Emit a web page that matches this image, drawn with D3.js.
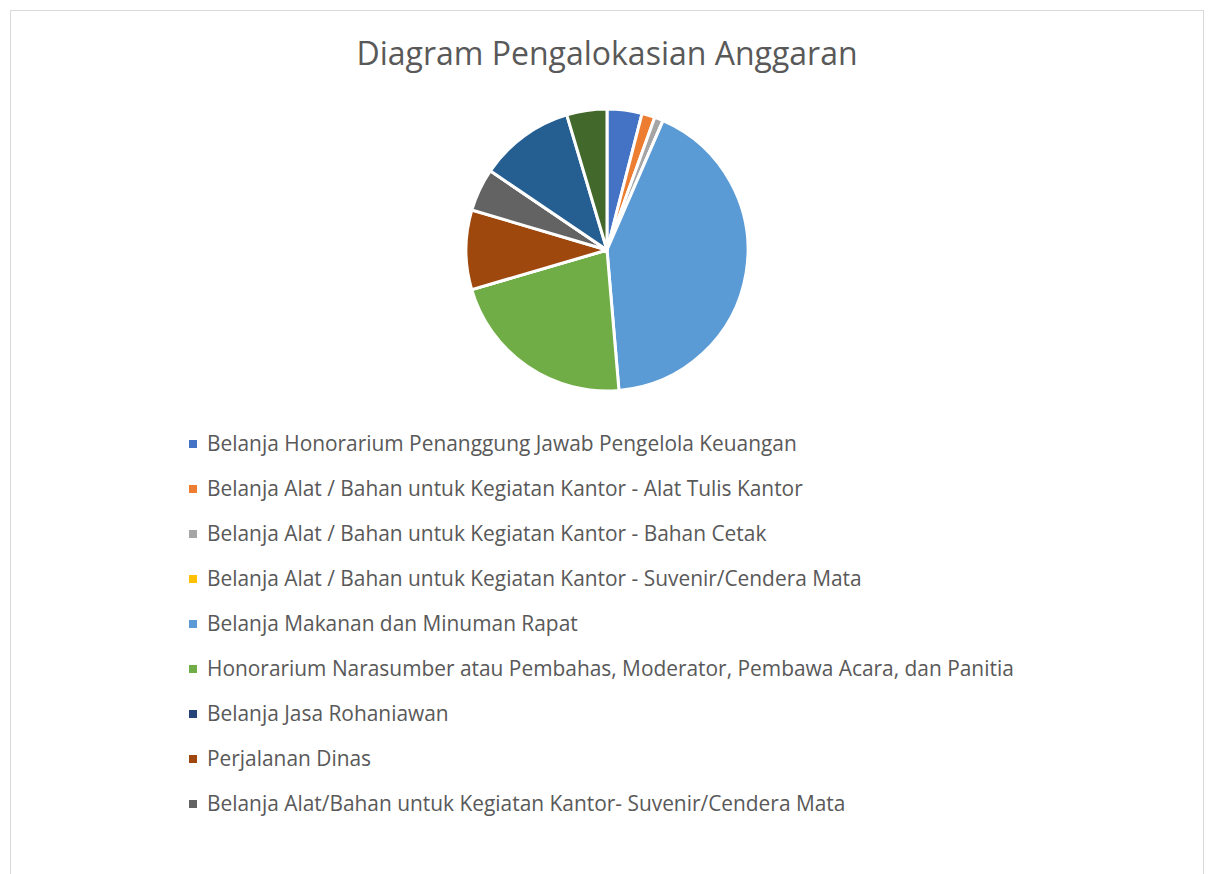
<!DOCTYPE html>
<html>
<head>
<meta charset="utf-8">
<script src="https://cdn.jsdelivr.net/npm/d3@7"></script>
<style>
  body { margin: 0; background: #fff; }
  svg { display: block; }
</style>
</head>
<body>
<div id="chart"></div>
<script>
// Slices (percent of total), clockwise from 12 o'clock
const values = [4.0, 1.5, 1.0, 0, 42.1, 21.8, 0, 9.1, 4.9, 0, 10.9, 4.6];

// Only the first nine entries are shown in the (clipped) legend
const categories = [
  'Belanja Honorarium Penanggung Jawab Pengelola Keuangan',
  'Belanja Alat / Bahan untuk Kegiatan Kantor - Alat Tulis Kantor',
  'Belanja Alat / Bahan untuk Kegiatan Kantor - Bahan Cetak',
  'Belanja Alat / Bahan untuk Kegiatan Kantor - Suvenir/Cendera Mata',
  'Belanja Makanan dan Minuman Rapat',
  'Honorarium Narasumber atau Pembahas, Moderator, Pembawa Acara, dan Panitia',
  'Belanja Jasa Rohaniawan',
  'Perjalanan Dinas',
  'Belanja Alat/Bahan untuk Kegiatan Kantor- Suvenir/Cendera Mata'
];

const colors = ['#4472C4', '#ED7D31', '#A5A5A5', '#FFC000', '#5B9BD5', '#70AD47',
  '#264478', '#9E480E', '#636363', '#997300', '#255E91', '#43682B'];

const title = 'Diagram Pengalokasian Anggaran';

const width = 1208;
const height = 874;

const svg = d3.select('#chart').append('svg')
  .attr('width', width)
  .attr('height', height);

// chart frame (runs past the bottom edge)
svg.append('rect')
  .attr('x', 10.5)
  .attr('y', 10.5)
  .attr('width', 1193)
  .attr('height', 900)
  .attr('fill', '#fff')
  .attr('stroke', '#d9d9d9')
  .attr('stroke-width', 1);

svg.append('text')
  .attr('x', 607)
  .attr('y', 65)
  .attr('text-anchor', 'middle')
  .attr('font-family', 'Open Sans, sans-serif')
  .attr('font-size', 32)
  .attr('fill', '#595959')
  .text(title);

// Pie
const cx = 607;
const cy = 250;
const radius = 141;

const pie = d3.pie()
  .sort(null)
  .value(d => d);

const arc = d3.arc()
  .innerRadius(0)
  .outerRadius(radius);

const color = d3.scaleOrdinal()
  .domain(d3.range(values.length))
  .range(colors);

svg.append('g')
  .attr('transform', `translate(${cx}, ${cy})`)
  .selectAll('path')
  .data(pie(values))
  .join('path')
  .attr('d', arc)
  .attr('fill', (d, i) => color(i))
  .attr('stroke', '#fff')
  .attr('stroke-width', 3)
  .attr('stroke-linejoin', 'round');

// Legend
const legendY = d3.scalePoint()
  .domain(d3.range(categories.length))
  .range([444, 804]);

const legend = svg.append('g')
  .selectAll('g')
  .data(categories)
  .join('g')
  .attr('transform', (d, i) => `translate(189, ${legendY(i)})`);

legend.append('rect')
  .attr('x', 0)
  .attr('y', -4)
  .attr('width', 8)
  .attr('height', 8)
  .attr('fill', (d, i) => color(i));

legend.append('text')
  .attr('x', 18)
  .attr('y', 0)
  .attr('dy', '0.35em')
  .attr('font-family', 'Open Sans, sans-serif')
  .attr('font-size', 20.9)
  .attr('fill', '#595959')
  .text(d => d);
</script>
</body>
</html>
